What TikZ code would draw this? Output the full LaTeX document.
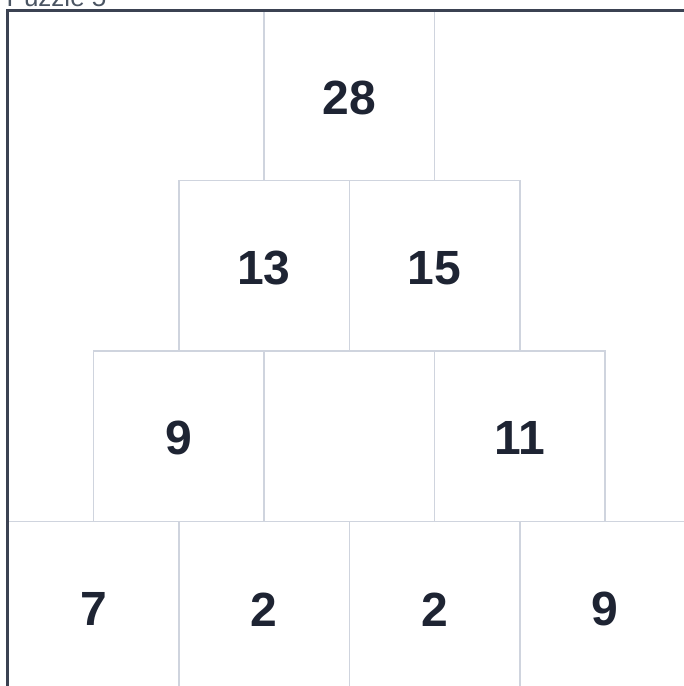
\documentclass[tikz,border=0pt]{standalone}
\usepackage{fontspec}
\setmainfont{Liberation Sans}
\definecolor{cellline}{HTML}{CFD4DE}
\definecolor{frameline}{HTML}{3B4252}
\definecolor{numtext}{HTML}{1E2433}
\definecolor{captext}{HTML}{4B5563}
\tikzset{
  cell/.style={draw=cellline, line width=1.5pt, fill=white, rectangle,
    minimum width=170.5pt, minimum height=170.5pt, inner sep=0pt},
  num/.style={text=numtext, font=\bfseries\fontsize{48}{48}\selectfont, inner sep=0pt},
  caption/.style={text=captext, font=\fontsize{26}{26}\selectfont, inner sep=0pt, anchor=base west}
}
\begin{document}
\begin{tikzpicture}[x=1pt,y=-1pt]
\useasboundingbox (0,0) rectangle (684,686);
\clip (0,0) rectangle (684,686);
\fill[white] (0,0) rectangle (684,686);
% row 0
\node[cell] (c00) at (349.25,95.25) {};
% row 1
\node[cell] (c10) at (264,265.75) {};
\node[cell] (c11) at (434.5,265.75) {};
% row 2
\node[cell] (c20) at (178.75,436.25) {};
\node[cell] (c21) at (349.25,436.25) {};
\node[cell] (c22) at (519.75,436.25) {};
% row 3
\node[cell] (c30) at (93.5,606.75) {};
\node[cell] (c31) at (264,606.75) {};
\node[cell] (c32) at (434.5,606.75) {};
\node[cell] (c33) at (605,606.75) {};
% numbers
\node[num] (n00) at ([yshift=-2.5pt]c00.center) {28};
\node[num] (n10) at ([yshift=-2pt]c10.center) {13};
\node[num] (n11) at ([yshift=-2pt]c11.center) {15};
\node[num] (n20) at ([yshift=-2pt]c20.center) {9};
\node[num] (n22) at ([yshift=-2pt]c22.center) {11};
\node[num] (n30) at ([yshift=-2.5pt]c30.center) {7};
\node[num] (n31) at ([yshift=-2.5pt]c31.center) {2};
\node[num] (n32) at ([yshift=-2.5pt]c32.center) {2};
\node[num] (n33) at ([yshift=-2.5pt]c33.center) {9};
% frame
\coordinate (fc) at (7.5,10.5);
\draw[frameline, line width=3pt] (fc |- 0,700) -- (fc) -- (fc -| 700,0);
% caption
\node[caption] (cap) at (6.5,6) {Puzzle 5};
\end{tikzpicture}
\end{document}
